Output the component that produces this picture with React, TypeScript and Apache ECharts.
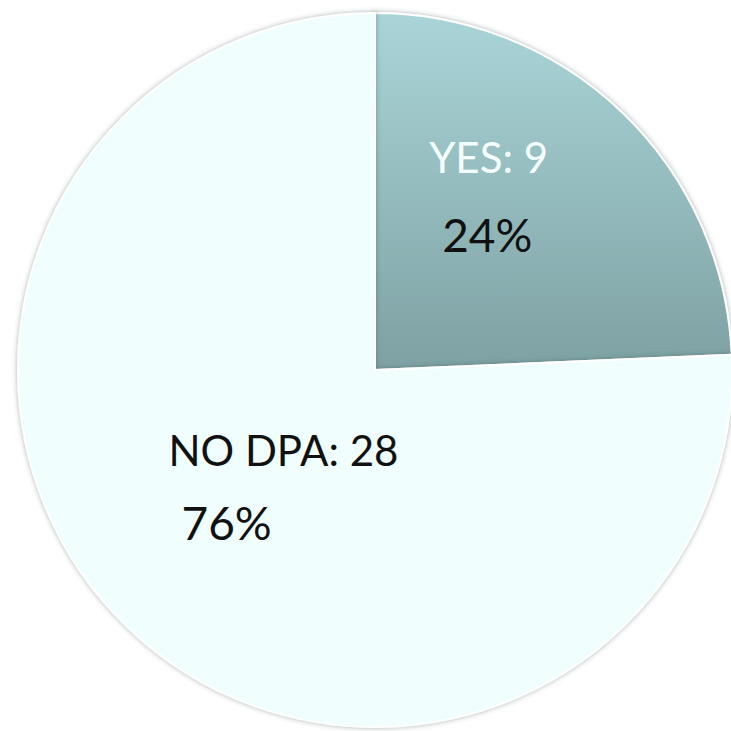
import React, { useEffect, useRef } from "react";
import * as echarts from "echarts";

const categories = ["YES", "NO DPA"];
const values = [9, 28];
const colorsTop = ["#aad5d8", "#f0fefe"];
const colorsBottom = ["#7ea1a3", "#f0fefe"];

export default function App() {
  const ref = useRef<HTMLDivElement>(null);
  useEffect(() => {
    if (!ref.current) return;
    const chart = echarts.init(ref.current, null, { renderer: "svg" });
    const data = categories.map((c, i) => ({
      name: c,
      value: values[i],
      itemStyle: {
        color: new echarts.graphic.LinearGradient(0, 0, 0, 1, [
          { offset: 0, color: colorsTop[i] },
          { offset: 1, color: colorsBottom[i] },
        ]),
      },
      label: {
        rich: {
          n: {
            fontSize: 42,
            fontFamily: "Lato",
            color: i === 0 ? "#f6ffff" : "#111111",
            lineHeight: i === 0 ? 77 : 73,
            align: "left",
          },
          p: {
            fontSize: 46,
            fontFamily: "Lato",
            color: "#111111",
            lineHeight: i === 0 ? 77 : 73,
            align: "left",
            padding: [0, 0, 0, 13],
          },
        },
      },
    }));
    chart.setOption({
      animation: false,
      backgroundColor: "#ffffff",
      series: [
        {
          type: "pie",
          center: [375, 370],
          radius: 357,
          startAngle: 90,
          clockwise: true,
          data,
          itemStyle: {
            borderColor: "#ffffff",
            borderWidth: 2,
            shadowBlur: 5,
            shadowColor: "rgba(60,80,80,0.45)",
          },
          label: {
            show: true,
            position: "inside",
            align: "left",
            formatter: (p: any) => `{n|${p.name}: ${p.value}}\n{p|${Math.round(p.percent)}%}`,
          },
          labelLine: { show: false },
          labelLayout: (p: any) =>
            p.dataIndex === 0 ? { dx: -12, dy: -43 } : { dx: 34, dy: -15 },
          emphasis: { disabled: true },
        },
      ],
    });
    return () => chart.dispose();
  }, []);
  return (
    <div
      ref={ref}
      style={{ position: "fixed", left: 0, top: 0, width: 731, height: 731 }}
    />
  );
}
